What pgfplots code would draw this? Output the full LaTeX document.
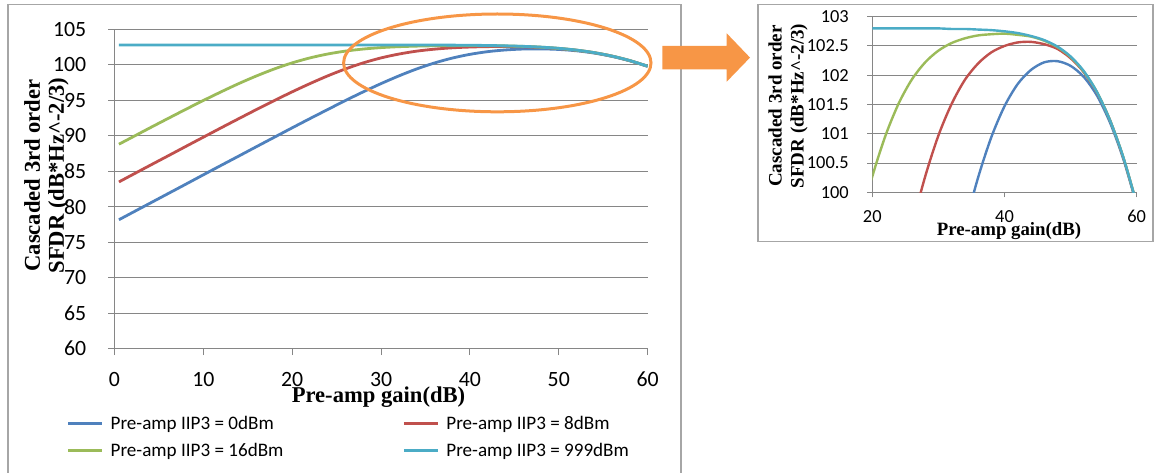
\documentclass[border=0pt]{standalone}
\usepackage{fontspec}
\setmainfont{Carlito}
\newfontfamily\tnr{Liberation Serif}
\usepackage{pgfplots}
\usepackage{pgfplotstable}
\pgfplotsset{compat=1.18}
\definecolor{cBlue}{HTML}{4F81BD}
\definecolor{cRed}{HTML}{C0504D}
\definecolor{cGreen}{HTML}{9BBB59}
\definecolor{cCyan}{HTML}{4BACC6}
\definecolor{cOrange}{HTML}{F79646}
\definecolor{gridgray}{HTML}{868686}
\definecolor{boxgray}{HTML}{A6A6A6}

\pgfplotstableread{
G y
0.5 78.17
2 79.17
4 80.50
6 81.83
8 83.16
10 84.50
12 85.83
14 87.15
16 88.48
18 89.80
20 91.12
22 92.42
24 93.70
26 94.97
28 96.19
30 97.35
32 98.43
34 99.41
36 100.25
38 100.94
40 101.47
42 101.85
44 102.09
46 102.22
48 102.24
50 102.16
52 101.97
54 101.65
56 101.18
58 100.56
60 99.78
}\tabBlue

\pgfplotstableread{
G y
0.5 83.50
2 84.50
4 85.83
6 87.15
8 88.48
10 89.80
12 91.12
14 92.42
16 93.71
18 94.97
20 96.19
22 97.35
24 98.44
26 99.42
28 100.27
30 100.97
32 101.51
34 101.92
36 102.20
38 102.39
40 102.50
42 102.56
44 102.57
46 102.53
48 102.45
50 102.29
52 102.05
54 101.70
56 101.22
58 100.58
60 99.80
}\tabRed

\pgfplotstableread{
G y
0.5 88.81
2 89.80
4 91.12
6 92.42
8 93.71
10 94.97
12 96.19
14 97.36
16 98.44
18 99.42
20 100.27
22 100.97
24 101.52
26 101.93
28 102.22
30 102.42
32 102.55
34 102.63
36 102.68
38 102.70
40 102.71
42 102.69
44 102.66
46 102.59
48 102.48
50 102.31
52 102.06
54 101.71
56 101.22
58 100.59
60 99.80
}\tabGreen

\pgfplotstableread{
G y
0.5 102.80
2 102.80
4 102.80
6 102.80
8 102.80
10 102.80
12 102.80
14 102.80
16 102.80
18 102.80
20 102.80
22 102.80
24 102.80
26 102.80
28 102.80
30 102.80
32 102.79
34 102.79
36 102.78
38 102.77
40 102.75
42 102.72
44 102.67
46 102.60
48 102.49
50 102.32
52 102.07
54 101.71
56 101.22
58 100.59
60 99.80
}\tabCyan

\begin{document}
\begin{tikzpicture}[x=1pt,y=1pt]
\path[use as bounding box] (0,0) rectangle (1154,472);
\draw[boxgray, line width=1.2pt] (8,-5) -- (8,467.3) -- (681,467.3) -- (681,-5);
\draw[boxgray, line width=1.2pt] (758,230.3) rectangle (1153,467.3);

\begin{axis}[
  at={(114.5pt,123.3pt)}, anchor=south west,
  scale only axis, width=533.1pt, height=319.4pt,
  xmin=0, xmax=60, ymin=60, ymax=105,
  axis x line*=bottom, axis y line*=left,
  axis line style={gridgray, line width=1pt, -},
  xtick={0,10,20,30,40,50,60},
  xticklabels={0,10,20,30,40,50,60},
  ytick={60,65,70,75,80,85,90,95,100,105},
  yticklabels={60,65,70,75,80,85,90,95,100,105},
  tick align=outside, major tick length=6.3pt,
  tick style={gridgray, line width=1pt},
  ymajorgrids, grid style={gridgray, line width=1pt},
  /pgf/number format/assume math mode=true,
  ticklabel style={font=\fontsize{21.8}{24}\selectfont, inner sep=0pt},
  xticklabel style={anchor=north, yshift=-17pt},
  yticklabel style={anchor=east, xshift=-21.8pt},
  legend columns=2,
  legend cell align=left,
  legend style={
    at={(axis description cs:-0.0897,-0.2091)}, anchor=north west,
    draw=none, fill=none, inner sep=0pt, outer sep=0pt,
    font=\fontsize{19.1}{22}\selectfont,
    row sep=8pt,
    nodes={inner sep=0pt, text height=14pt, text depth=5pt},
    /tikz/every odd column/.append style={column sep=7pt},
    /tikz/every even column/.append style={column sep=119pt},
  },
  legend image code/.code={\draw[#1, line width=3pt] (0pt,1.5pt) -- (34pt,1.5pt);},
  every axis plot/.append style={line width=2.8pt, smooth, no marks},
]
\addplot[cBlue] table[x=G, y=y] {\tabBlue};
\addlegendentry{Pre-amp IIP3 = 0dBm}
\addplot[cRed] table[x=G, y=y] {\tabRed};
\addlegendentry{Pre-amp IIP3 = 8dBm}
\addplot[cGreen] table[x=G, y=y] {\tabGreen};
\addlegendentry{Pre-amp IIP3 = 16dBm}
\addplot[cCyan] table[x=G, y=y] {\tabCyan};
\addlegendentry{Pre-amp IIP3 = 999dBm}
\end{axis}

\begin{axis}[
  at={(872.3pt,279.7pt)}, anchor=south west,
  scale only axis, width=264.4pt, height=175.6pt,
  xmin=20, xmax=60, ymin=100, ymax=103,
  axis x line*=bottom, axis y line*=left,
  axis line style={gridgray, line width=1pt, -},
  xtick={20,40,60}, xticklabels={20,40,60},
  ytick={100,100.5,101,101.5,102,102.5,103},
  yticklabels={100,100.5,101,101.5,102,102.5,103},
  tick align=outside, major tick length=5pt,
  tick style={gridgray, line width=1pt},
  ymajorgrids, grid style={gridgray, line width=1pt},
  /pgf/number format/assume math mode=true,
  ticklabel style={font=\fontsize{18.4}{21}\selectfont, inner sep=0pt},
  xticklabel style={anchor=north, yshift=-13pt},
  yticklabel style={anchor=east, xshift=-18.3pt},
  every axis plot/.append style={line width=2.4pt, smooth, no marks},
]
\addplot[cBlue] table[x=G, y=y] {\tabBlue};
\addplot[cRed] table[x=G, y=y] {\tabRed};
\addplot[cGreen] table[x=G, y=y] {\tabGreen};
\addplot[cCyan] table[x=G, y=y] {\tabCyan};
\end{axis}

\node[rotate=90, align=center, font=\tnr\bfseries\fontsize{22.6}{24}\selectfont] at (46.5,296.5) {Cascaded 3rd order\\SFDR (dB*Hz\textasciicircum-2/3)};
\node[font=\tnr\bfseries\fontsize{22.6}{24}\selectfont] at (378.5,74.5) {Pre-amp gain(dB)};
\node[rotate=90, align=center, font=\tnr\bfseries\fontsize{19}{22}\selectfont] at (788,366) {Cascaded 3rd order\\SFDR (dB*Hz\textasciicircum-2/3)};
\node[font=\tnr\bfseries\fontsize{18.8}{21}\selectfont] at (1009,240.5) {Pre-amp gain(dB)};

\draw[cOrange, line width=3pt] (497.3,409.1) ellipse [x radius=153.7, y radius=48.9];
\fill[cOrange] (662.3,402.7) -- (726.7,402.7) -- (726.7,390.3) -- (750,414.4) -- (726.7,438.7) -- (726.7,426) -- (662.3,426) -- cycle;
\end{tikzpicture}
\end{document}
